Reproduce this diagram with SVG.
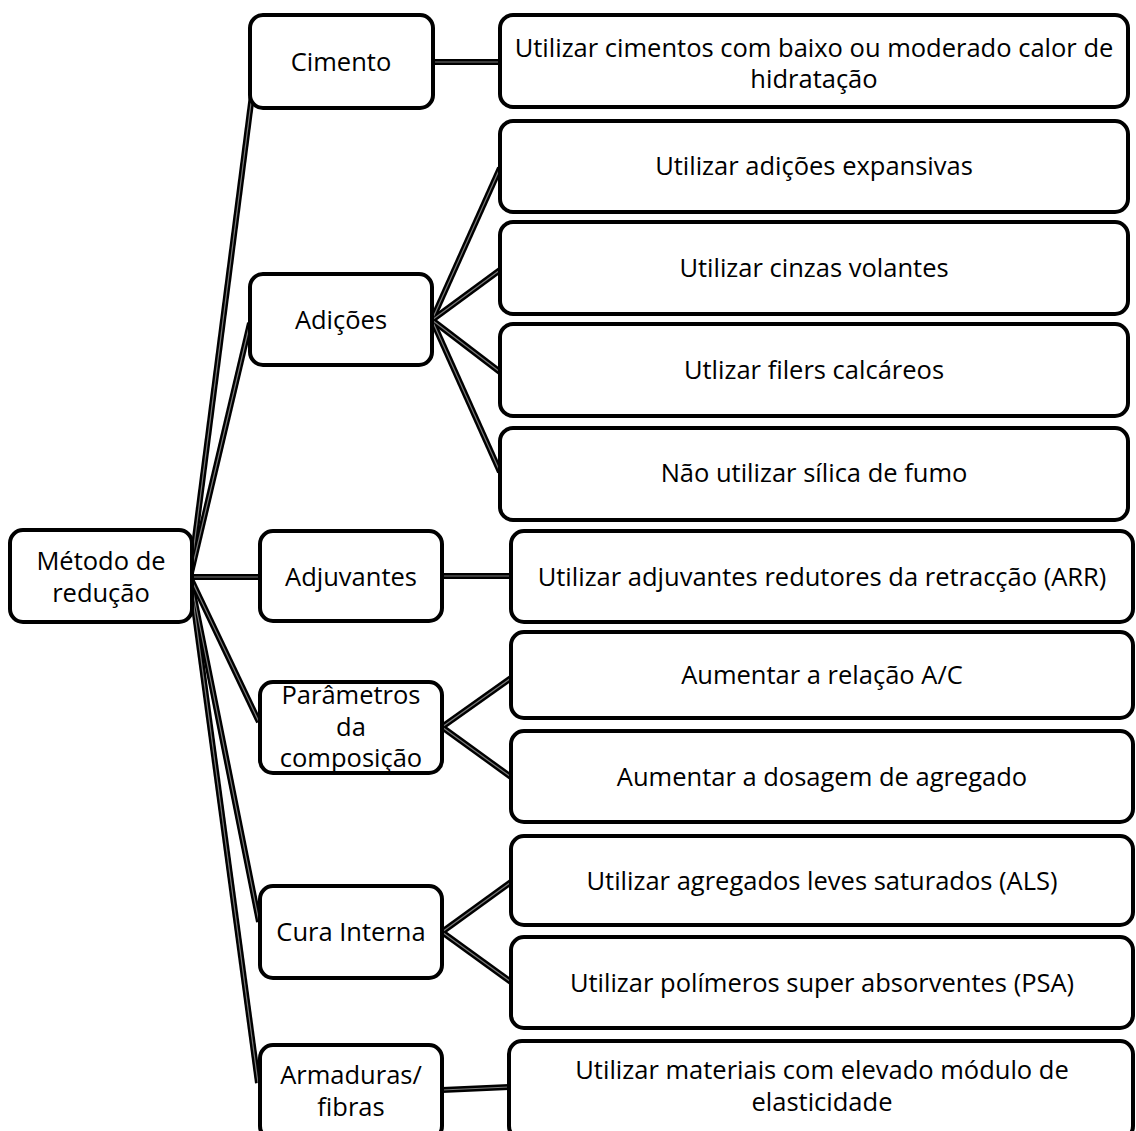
<svg xmlns="http://www.w3.org/2000/svg" width="1136" height="1131" viewBox="0 0 1136 1131">
  <style>
    .box { fill: #ffffff; stroke: #000000; stroke-width: 4; }
    .lbl { font-family: "Open Sans", "Liberation Sans", sans-serif; font-size: 25.5px; fill: #000000; text-anchor: middle; }
    .wire { fill: none; stroke: #000000; stroke-width: 6; stroke-linecap: butt; }
    .core { fill: none; stroke: #7a7a7a; stroke-width: 1.2; }
  </style>
  <defs>
    <!-- connector paths, each drawn twice: dark body plus a faint centre line -->
    <g id="wires">
      <path d="M190 577 L252 95"/>
      <path d="M190 577 L250 323"/>
      <path d="M190 577 L260 577"/>
      <path d="M190 577 L259 722"/>
      <path d="M190 577 L259 922"/>
      <path d="M190 577 L258 1083"/>
      <path d="M433 62 L500 62"/>
      <path d="M432 320 L500 168"/>
      <path d="M432 320 L500 270"/>
      <path d="M432 320 L500 372"/>
      <path d="M432 320 L500 472"/>
      <path d="M442 576 L511 576"/>
      <path d="M442 727 L511 678"/>
      <path d="M442 727 L511 777"/>
      <path d="M442 932 L511 882"/>
      <path d="M442 932 L511 982"/>
      <path d="M442 1090 L509 1087"/>
    </g>
  </defs>
  <rect width="1136" height="1131" fill="#ffffff"/>

  <g id="connectors">
    <use href="#wires" class="wire"/>
    <use href="#wires" class="core"/>
  </g>

  <g id="metodo">
    <rect class="box" x="10" y="530" width="182" height="92" rx="13"/>
    <text class="lbl" x="101" y="570">Método de</text>
    <text class="lbl" x="101" y="602">redução</text>
  </g>

  <g id="cimento">
    <rect class="box" x="250" y="15" width="183" height="93" rx="13"/>
    <text class="lbl" x="341" y="71">Cimento</text>
  </g>
  <g id="cimento-calor">
    <rect class="box" x="500" y="15" width="628" height="92" rx="13"/>
    <text class="lbl" x="814" y="57">Utilizar cimentos com baixo ou moderado calor de</text>
    <text class="lbl" x="814" y="88">hidratação</text>
  </g>

  <g id="adicoes">
    <rect class="box" x="250" y="274" width="182" height="91" rx="13"/>
    <text class="lbl" x="341" y="329">Adições</text>
  </g>
  <g id="adicoes-expansivas">
    <rect class="box" x="500" y="121" width="628" height="91" rx="13"/>
    <text class="lbl" x="814" y="175">Utilizar adições expansivas</text>
  </g>
  <g id="cinzas-volantes">
    <rect class="box" x="500" y="222" width="628" height="92" rx="13"/>
    <text class="lbl" x="814" y="277">Utilizar cinzas volantes</text>
  </g>
  <g id="filers-calcareos">
    <rect class="box" x="500" y="324" width="628" height="92" rx="13"/>
    <text class="lbl" x="814" y="379">Utlizar filers calcáreos</text>
  </g>
  <g id="silica-fumo">
    <rect class="box" x="500" y="428" width="628" height="92" rx="13"/>
    <text class="lbl" x="814" y="482">Não utilizar sílica de fumo</text>
  </g>

  <g id="adjuvantes">
    <rect class="box" x="260" y="531" width="182" height="90" rx="13"/>
    <text class="lbl" x="351" y="586">Adjuvantes</text>
  </g>
  <g id="adjuvantes-arr">
    <rect class="box" x="511" y="531" width="622" height="91" rx="13"/>
    <text class="lbl" x="822" y="586">Utilizar adjuvantes redutores da retracção (ARR)</text>
  </g>

  <g id="parametros">
    <rect class="box" x="260" y="682" width="182" height="91" rx="13"/>
    <text class="lbl" x="351" y="704">Parâmetros</text>
    <text class="lbl" x="351" y="736">da</text>
    <text class="lbl" x="351" y="767">composição</text>
  </g>
  <g id="relacao-ac">
    <rect class="box" x="511" y="632" width="622" height="86" rx="13"/>
    <text class="lbl" x="822" y="684">Aumentar a relação A/C</text>
  </g>
  <g id="dosagem-agregado">
    <rect class="box" x="511" y="731" width="622" height="91" rx="13"/>
    <text class="lbl" x="822" y="786">Aumentar a dosagem de agregado</text>
  </g>

  <g id="cura-interna">
    <rect class="box" x="260" y="886" width="182" height="92" rx="13"/>
    <text class="lbl" x="351" y="941">Cura Interna</text>
  </g>
  <g id="agregados-als">
    <rect class="box" x="511" y="836" width="622" height="89" rx="13"/>
    <text class="lbl" x="822" y="890">Utilizar agregados leves saturados (ALS)</text>
  </g>
  <g id="polimeros-psa">
    <rect class="box" x="511" y="937" width="622" height="91" rx="13"/>
    <text class="lbl" x="822" y="992">Utilizar polímeros super absorventes (PSA)</text>
  </g>

  <g id="armaduras">
    <rect class="box" x="260" y="1045" width="182" height="94" rx="13"/>
    <text class="lbl" x="351" y="1084">Armaduras/</text>
    <text class="lbl" x="351" y="1116">fibras</text>
  </g>
  <g id="modulo-elasticidade">
    <rect class="box" x="509" y="1041" width="624" height="98" rx="13"/>
    <text class="lbl" x="822" y="1079">Utilizar materiais com elevado módulo de</text>
    <text class="lbl" x="822" y="1111">elasticidade</text>
  </g>
</svg>
